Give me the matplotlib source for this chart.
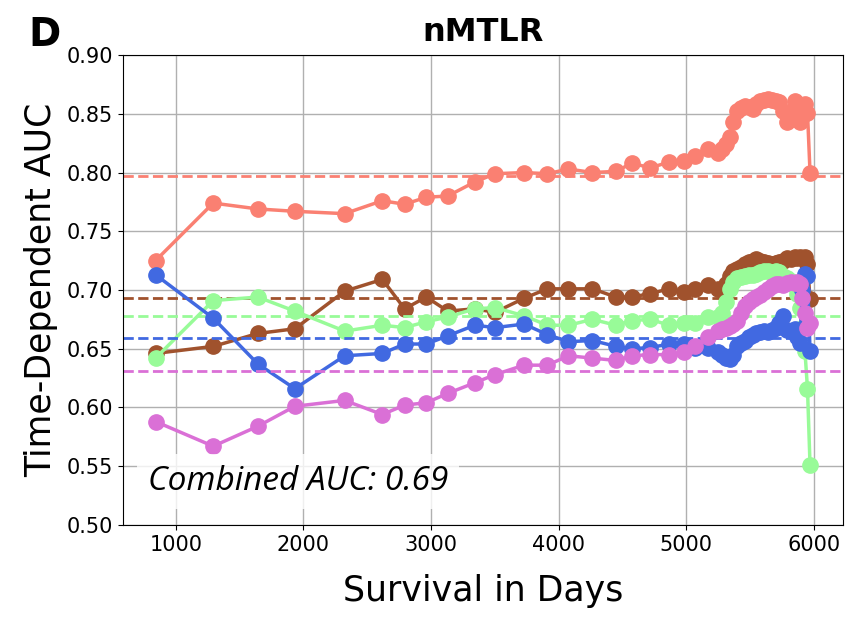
import matplotlib.pyplot as plt

# evaluation times (days), shared by all five series
days = [841, 1293, 1643, 1933, 2323, 2618, 2793, 2963, 3131, 3343, 3502,
        3729, 3912, 4077, 4265, 4449, 4574, 4718, 4867, 4984, 5071, 5167, 5245,
        5280, 5310, 5340, 5370, 5400, 5430, 5460, 5490, 5520, 5550, 5580, 5610,
        5640, 5670, 5700, 5730, 5760, 5790, 5820, 5850, 5870, 5890, 5910, 5930,
        5950, 5970]

auc_salmon = [0.725, 0.774, 0.769, 0.767, 0.765, 0.776, 0.773, 0.779, 0.780, 0.792, 0.799,
              0.800, 0.799, 0.803, 0.800, 0.801, 0.808, 0.804, 0.809, 0.810, 0.814, 0.820, 0.817,
              0.820, 0.824, 0.830, 0.843, 0.852, 0.855, 0.857, 0.856, 0.854, 0.858, 0.861, 0.862,
              0.863, 0.862, 0.861, 0.860, 0.852, 0.843, 0.850, 0.861, 0.855, 0.843, 0.848, 0.858,
              0.851, 0.800]
auc_brown = [0.646, 0.652, 0.663, 0.667, 0.699, 0.709, 0.684, 0.694, 0.682, 0.684, 0.681,
             0.693, 0.701, 0.701, 0.701, 0.694, 0.694, 0.697, 0.701, 0.698, 0.701, 0.704, 0.701,
             0.700, 0.705, 0.712, 0.716, 0.718, 0.720, 0.722, 0.724, 0.725, 0.726, 0.725, 0.724,
             0.723, 0.722, 0.723, 0.724, 0.725, 0.727, 0.726, 0.728, 0.727, 0.728, 0.727, 0.728,
             0.722, 0.692]
auc_green = [0.642, 0.691, 0.694, 0.682, 0.665, 0.670, 0.668, 0.673, 0.677, 0.684, 0.685,
             0.678, 0.670, 0.670, 0.675, 0.670, 0.674, 0.675, 0.670, 0.672, 0.672, 0.677, 0.677,
             0.680, 0.690, 0.701, 0.707, 0.710, 0.711, 0.712, 0.713, 0.713, 0.714, 0.715, 0.716,
             0.716, 0.715, 0.716, 0.715, 0.712, 0.710, 0.708, 0.703, 0.697, 0.685, 0.668, 0.648,
             0.616, 0.551]
auc_blue = [0.713, 0.676, 0.637, 0.616, 0.644, 0.646, 0.654, 0.654, 0.661, 0.670, 0.668,
            0.671, 0.662, 0.656, 0.657, 0.652, 0.650, 0.651, 0.654, 0.654, 0.651, 0.651, 0.647,
            0.645, 0.642, 0.641, 0.645, 0.652, 0.655, 0.657, 0.660, 0.662, 0.663, 0.664, 0.665,
            0.664, 0.666, 0.668, 0.672, 0.678, 0.666, 0.665, 0.667, 0.660, 0.655, 0.700, 0.714,
            0.712, 0.648]
auc_pink = [0.588, 0.567, 0.584, 0.601, 0.606, 0.594, 0.602, 0.604, 0.612, 0.621, 0.628,
            0.636, 0.636, 0.644, 0.642, 0.640, 0.644, 0.645, 0.645, 0.647, 0.652, 0.660, 0.665,
            0.667, 0.668, 0.669, 0.671, 0.674, 0.680, 0.686, 0.690, 0.692, 0.694, 0.696, 0.698,
            0.701, 0.703, 0.705, 0.705, 0.704, 0.706, 0.707, 0.706, 0.707, 0.705, 0.693, 0.680,
            0.668, 0.672]

series = [auc_salmon, auc_brown, auc_green, auc_blue, auc_pink]
colors = ['salmon', 'sienna', 'palegreen', 'royalblue', 'orchid']
mean_auc = [0.797, 0.693, 0.678, 0.659, 0.631]

fig, ax = plt.subplots(figsize=(8.47, 6.19), dpi=100)
fig.subplots_adjust(left=0.145, right=0.995, top=0.911, bottom=0.152)

for vals, c, m in zip(series, colors, mean_auc):
    ax.plot(days, vals, '-o', color=c, lw=2.5, markersize=11)
    ax.axhline(m, color=c, ls='--', lw=2)

ax.set_ylim(0.5, 0.9)
ax.set_yticks([0.50, 0.55, 0.60, 0.65, 0.70, 0.75, 0.80, 0.85, 0.90])
ax.set_yticklabels(['%.2f' % t for t in ax.get_yticks()])
ax.set_xticks([1000, 2000, 3000, 4000, 5000, 6000])
ax.tick_params(labelsize=15)
ax.grid(True, color='#b0b0b0', lw=1)
ax.set_axisbelow(True)

ax.set_xlabel('Survival in Days', fontsize=25, labelpad=14)
ax.set_ylabel('Time-Dependent AUC', fontsize=25, labelpad=6)
ax.set_title('nMTLR', fontsize=23, fontweight='bold', pad=10)
fig.text(0.033, 0.925, 'D', fontsize=28, fontweight='bold')

ax.text(0.035, 0.075, 'Combined AUC: 0.69', transform=ax.transAxes,
        fontsize=24, style='italic', family='Open Sans',
        bbox=dict(facecolor='white', edgecolor='none', alpha=0.8, pad=8))

plt.savefig('out.png', dpi=100)
